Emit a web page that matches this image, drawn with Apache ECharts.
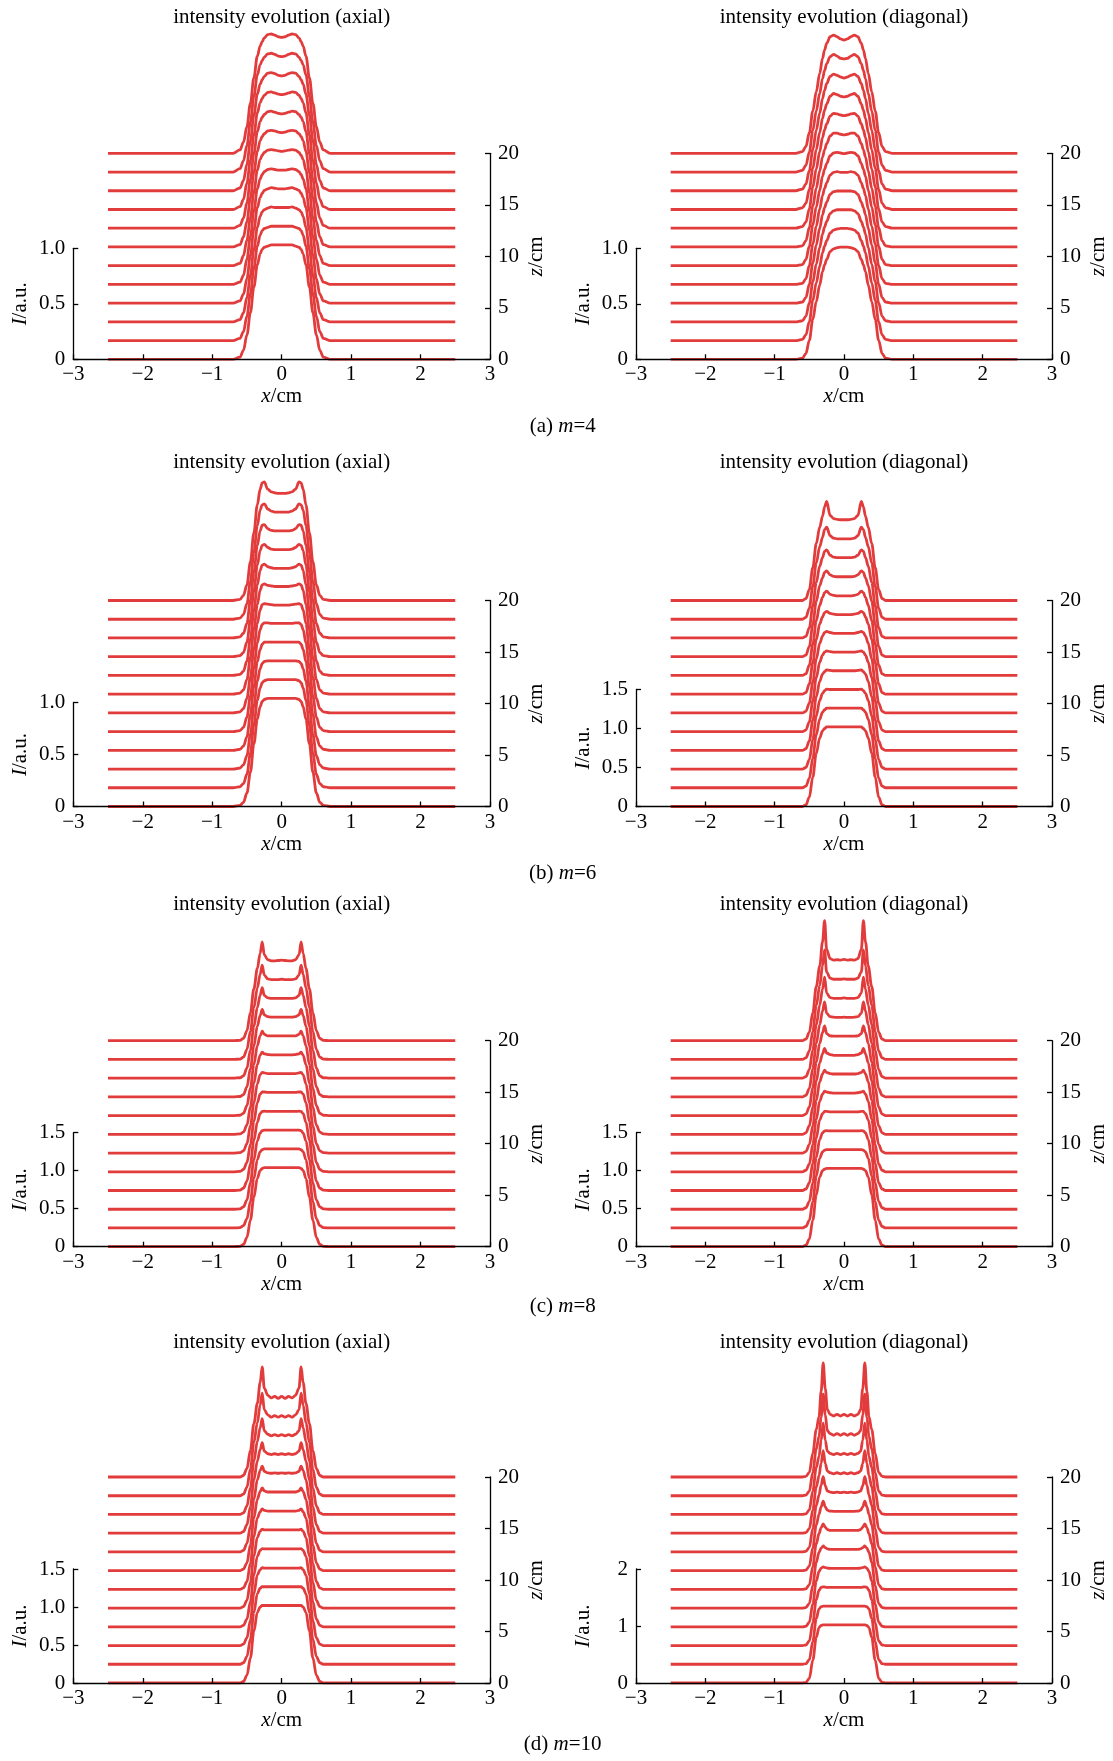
<!DOCTYPE html>
<html>
<head>
<meta charset="utf-8">
<script src="https://cdn.jsdelivr.net/npm/echarts@6/dist/echarts.min.js"></script>
<style>
html,body{margin:0;padding:0;background:#fff;}
#chart{width:1113px;height:1761px;}
</style>
</head>
<body>
<div id="chart"></div>
<script>
// propagation distances (cm) of the 12 transverse cuts, bottom to top
const zCuts = [0, 1.818, 3.636, 5.455, 7.273, 9.091, 10.909, 12.727, 14.545, 16.364, 18.182, 20];
const zTicks = [0, 5, 10, 15, 20];
const xTicks = [-3, -2, -1, 0, 1, 2, 3];

// half profiles I(x) for x >= 0 (beam is symmetric), one row per cut
const halfX_m4 = [0, 0.05, 0.1, 0.15, 0.2, 0.25, 0.28, 0.31, 0.35, 0.4, 0.45, 0.5, 0.55, 0.6, 0.7, 2.5];
const axial_m4 = [
  [1.03, 1.03, 1.03, 1.03, 1.02, 1.01, 0.99, 0.95, 0.85, 0.65, 0.42, 0.22, 0.08, 0.02, 0, 0],
  [1.03, 1.03, 1.03, 1.03, 1.02, 1.01, 0.99, 0.95, 0.85, 0.65, 0.42, 0.22, 0.08, 0.02, 0, 0],
  [1.03, 1.03, 1.03, 1.035, 1.025, 1.01, 0.99, 0.95, 0.85, 0.65, 0.42, 0.22, 0.08, 0.02, 0, 0],
  [1.03, 1.03, 1.035, 1.04, 1.03, 1.015, 0.99, 0.95, 0.86, 0.66, 0.43, 0.22, 0.08, 0.02, 0, 0],
  [1.03, 1.03, 1.035, 1.04, 1.035, 1.015, 0.99, 0.95, 0.86, 0.66, 0.43, 0.23, 0.08, 0.02, 0, 0],
  [1.03, 1.035, 1.04, 1.045, 1.04, 1.02, 0.995, 0.955, 0.86, 0.66, 0.43, 0.23, 0.09, 0.02, 0, 0],
  [1.03, 1.035, 1.045, 1.05, 1.045, 1.02, 0.995, 0.955, 0.86, 0.67, 0.44, 0.23, 0.09, 0.02, 0, 0],
  [1.03, 1.035, 1.045, 1.055, 1.05, 1.025, 1.0, 0.96, 0.87, 0.67, 0.44, 0.23, 0.09, 0.025, 0, 0],
  [1.035, 1.04, 1.05, 1.06, 1.055, 1.03, 1.0, 0.96, 0.87, 0.67, 0.44, 0.24, 0.09, 0.025, 0, 0],
  [1.035, 1.04, 1.055, 1.065, 1.06, 1.03, 1.0, 0.96, 0.87, 0.68, 0.45, 0.24, 0.09, 0.025, 0, 0],
  [1.04, 1.045, 1.06, 1.07, 1.065, 1.035, 1.005, 0.965, 0.875, 0.68, 0.45, 0.24, 0.1, 0.03, 0, 0],
  [1.045, 1.05, 1.065, 1.075, 1.07, 1.04, 1.005, 0.965, 0.875, 0.68, 0.45, 0.24, 0.1, 0.03, 0, 0]
];
const diagonal_m4 = [
  [1.01, 1.01, 1.005, 0.995, 0.97, 0.9, 0.85, 0.79, 0.67, 0.52, 0.36, 0.17, 0.05, 0.01, 0, 0],
  [1.01, 1.01, 1.005, 0.995, 0.97, 0.9, 0.85, 0.79, 0.67, 0.52, 0.36, 0.17, 0.05, 0.01, 0, 0],
  [1.01, 1.01, 1.01, 1.0, 0.975, 0.905, 0.855, 0.79, 0.67, 0.52, 0.36, 0.17, 0.05, 0.01, 0, 0],
  [1.01, 1.01, 1.01, 1.005, 0.98, 0.91, 0.86, 0.795, 0.675, 0.525, 0.36, 0.17, 0.05, 0.01, 0, 0],
  [1.01, 1.01, 1.015, 1.01, 0.985, 0.915, 0.865, 0.8, 0.68, 0.525, 0.36, 0.17, 0.05, 0.01, 0, 0],
  [1.01, 1.015, 1.02, 1.015, 0.99, 0.92, 0.87, 0.805, 0.68, 0.53, 0.365, 0.175, 0.055, 0.01, 0, 0],
  [1.01, 1.015, 1.025, 1.025, 1.0, 0.93, 0.875, 0.81, 0.685, 0.53, 0.365, 0.175, 0.055, 0.01, 0, 0],
  [1.015, 1.02, 1.03, 1.035, 1.01, 0.94, 0.885, 0.815, 0.69, 0.535, 0.37, 0.175, 0.055, 0.015, 0, 0],
  [1.015, 1.02, 1.035, 1.045, 1.02, 0.95, 0.895, 0.82, 0.695, 0.54, 0.37, 0.18, 0.055, 0.015, 0, 0],
  [1.015, 1.025, 1.04, 1.05, 1.03, 0.965, 0.905, 0.83, 0.7, 0.545, 0.37, 0.18, 0.06, 0.015, 0, 0],
  [1.02, 1.025, 1.045, 1.06, 1.04, 0.975, 0.915, 0.84, 0.71, 0.55, 0.375, 0.18, 0.06, 0.015, 0, 0],
  [1.02, 1.03, 1.05, 1.065, 1.05, 0.99, 0.93, 0.855, 0.72, 0.555, 0.38, 0.185, 0.06, 0.015, 0, 0]
];

const halfX_m6 = [0, 0.05, 0.1, 0.15, 0.2, 0.25, 0.28, 0.31, 0.35, 0.4, 0.45, 0.5, 0.55, 0.6, 0.7, 2.5];
const axial_m6 = [
  [1.04, 1.04, 1.04, 1.04, 1.04, 1.03, 1.01, 0.96, 0.84, 0.6, 0.33, 0.13, 0.04, 0.01, 0, 0],
  [1.04, 1.04, 1.04, 1.04, 1.04, 1.03, 1.01, 0.96, 0.84, 0.6, 0.33, 0.13, 0.04, 0.01, 0, 0],
  [1.04, 1.04, 1.04, 1.04, 1.04, 1.035, 1.015, 0.965, 0.845, 0.6, 0.33, 0.13, 0.04, 0.01, 0, 0],
  [1.04, 1.04, 1.04, 1.04, 1.04, 1.04, 1.02, 0.97, 0.85, 0.61, 0.34, 0.13, 0.04, 0.01, 0, 0],
  [1.04, 1.04, 1.04, 1.04, 1.045, 1.045, 1.03, 0.98, 0.85, 0.61, 0.34, 0.14, 0.04, 0.01, 0, 0],
  [1.035, 1.035, 1.035, 1.04, 1.045, 1.05, 1.04, 0.99, 0.86, 0.61, 0.34, 0.14, 0.04, 0.01, 0, 0],
  [1.035, 1.035, 1.035, 1.04, 1.045, 1.06, 1.05, 1.0, 0.86, 0.62, 0.35, 0.14, 0.04, 0.01, 0, 0],
  [1.03, 1.03, 1.03, 1.035, 1.045, 1.07, 1.06, 1.01, 0.87, 0.62, 0.35, 0.14, 0.04, 0.01, 0, 0],
  [1.03, 1.03, 1.03, 1.035, 1.05, 1.08, 1.07, 1.02, 0.88, 0.63, 0.35, 0.14, 0.04, 0.01, 0, 0],
  [1.03, 1.03, 1.03, 1.035, 1.05, 1.09, 1.085, 1.03, 0.89, 0.63, 0.36, 0.14, 0.045, 0.01, 0, 0],
  [1.03, 1.03, 1.03, 1.04, 1.06, 1.11, 1.1, 1.05, 0.9, 0.64, 0.36, 0.15, 0.045, 0.01, 0, 0],
  [1.03, 1.03, 1.035, 1.045, 1.07, 1.14, 1.13, 1.07, 0.92, 0.65, 0.37, 0.15, 0.05, 0.01, 0, 0]
];
const diagonal_m6 = [
  [1.02, 1.02, 1.02, 1.02, 1.02, 1.02, 1.0, 0.97, 0.88, 0.68, 0.38, 0.12, 0.02, 0, 0, 0],
  [1.02, 1.02, 1.02, 1.02, 1.02, 1.02, 1.0, 0.97, 0.88, 0.68, 0.38, 0.12, 0.02, 0, 0, 0],
  [1.02, 1.02, 1.02, 1.02, 1.02, 1.025, 1.005, 0.97, 0.88, 0.68, 0.38, 0.12, 0.02, 0, 0, 0],
  [1.02, 1.02, 1.02, 1.02, 1.025, 1.03, 1.01, 0.975, 0.885, 0.685, 0.385, 0.12, 0.02, 0, 0, 0],
  [1.02, 1.02, 1.02, 1.02, 1.025, 1.035, 1.02, 0.98, 0.89, 0.69, 0.39, 0.125, 0.02, 0, 0, 0],
  [1.02, 1.02, 1.02, 1.02, 1.03, 1.045, 1.03, 0.985, 0.89, 0.69, 0.39, 0.125, 0.02, 0, 0, 0],
  [1.02, 1.02, 1.02, 1.025, 1.035, 1.06, 1.045, 0.99, 0.9, 0.7, 0.4, 0.13, 0.02, 0, 0, 0],
  [1.02, 1.02, 1.02, 1.025, 1.04, 1.08, 1.06, 1.0, 0.9, 0.7, 0.4, 0.13, 0.02, 0, 0, 0],
  [1.025, 1.025, 1.025, 1.03, 1.05, 1.1, 1.08, 1.01, 0.91, 0.71, 0.41, 0.13, 0.02, 0, 0, 0],
  [1.03, 1.03, 1.03, 1.035, 1.06, 1.13, 1.11, 1.03, 0.92, 0.71, 0.41, 0.13, 0.02, 0, 0, 0],
  [1.03, 1.03, 1.03, 1.04, 1.07, 1.18, 1.15, 1.05, 0.93, 0.72, 0.42, 0.14, 0.025, 0, 0, 0],
  [1.035, 1.035, 1.04, 1.05, 1.09, 1.27, 1.2, 1.08, 0.94, 0.73, 0.42, 0.14, 0.025, 0, 0, 0]
];

const halfX_m8 = [0, 0.05, 0.1, 0.15, 0.2, 0.25, 0.28, 0.31, 0.35, 0.4, 0.45, 0.5, 0.55, 0.6, 0.7, 2.5];
const axial_m8 = [
  [1.04, 1.04, 1.04, 1.04, 1.04, 1.04, 1.03, 1.0, 0.9, 0.65, 0.35, 0.12, 0.03, 0.005, 0, 0],
  [1.04, 1.04, 1.04, 1.04, 1.04, 1.04, 1.03, 1.0, 0.9, 0.65, 0.35, 0.12, 0.03, 0.005, 0, 0],
  [1.04, 1.04, 1.04, 1.04, 1.04, 1.04, 1.035, 1.0, 0.9, 0.65, 0.35, 0.12, 0.03, 0.005, 0, 0],
  [1.04, 1.04, 1.04, 1.04, 1.04, 1.045, 1.04, 1.01, 0.9, 0.66, 0.35, 0.12, 0.03, 0.005, 0, 0],
  [1.045, 1.045, 1.045, 1.045, 1.045, 1.05, 1.05, 1.02, 0.91, 0.66, 0.36, 0.12, 0.03, 0.005, 0, 0],
  [1.045, 1.045, 1.045, 1.045, 1.045, 1.055, 1.06, 1.03, 0.91, 0.66, 0.36, 0.12, 0.03, 0.005, 0, 0],
  [1.045, 1.045, 1.045, 1.045, 1.05, 1.06, 1.08, 1.04, 0.92, 0.67, 0.36, 0.12, 0.03, 0.005, 0, 0],
  [1.05, 1.05, 1.05, 1.05, 1.05, 1.07, 1.11, 1.05, 0.92, 0.67, 0.36, 0.13, 0.03, 0.005, 0, 0],
  [1.05, 1.05, 1.05, 1.05, 1.055, 1.08, 1.15, 1.07, 0.93, 0.67, 0.37, 0.13, 0.03, 0.005, 0, 0],
  [1.05, 1.05, 1.05, 1.05, 1.055, 1.09, 1.19, 1.09, 0.93, 0.68, 0.37, 0.13, 0.03, 0.005, 0, 0],
  [1.055, 1.05, 1.05, 1.05, 1.06, 1.11, 1.24, 1.12, 0.94, 0.68, 0.37, 0.13, 0.03, 0.005, 0, 0],
  [1.06, 1.055, 1.05, 1.05, 1.065, 1.13, 1.3, 1.15, 0.95, 0.68, 0.37, 0.13, 0.03, 0.005, 0, 0]
];
const diagonal_m8 = [
  [1.03, 1.03, 1.03, 1.03, 1.03, 1.03, 1.02, 1.0, 0.92, 0.68, 0.35, 0.1, 0.02, 0, 0, 0],
  [1.03, 1.03, 1.03, 1.03, 1.03, 1.03, 1.025, 1.0, 0.92, 0.68, 0.35, 0.1, 0.02, 0, 0, 0],
  [1.03, 1.03, 1.03, 1.03, 1.03, 1.035, 1.03, 1.005, 0.92, 0.68, 0.35, 0.1, 0.02, 0, 0, 0],
  [1.035, 1.035, 1.035, 1.035, 1.035, 1.04, 1.04, 1.01, 0.93, 0.69, 0.36, 0.1, 0.02, 0, 0, 0],
  [1.035, 1.035, 1.035, 1.035, 1.04, 1.05, 1.06, 1.02, 0.93, 0.69, 0.36, 0.1, 0.02, 0, 0, 0],
  [1.04, 1.04, 1.04, 1.04, 1.045, 1.06, 1.09, 1.04, 0.94, 0.69, 0.36, 0.11, 0.02, 0, 0, 0],
  [1.04, 1.04, 1.04, 1.04, 1.05, 1.07, 1.13, 1.06, 0.94, 0.7, 0.36, 0.11, 0.02, 0, 0, 0],
  [1.045, 1.045, 1.045, 1.045, 1.05, 1.08, 1.18, 1.09, 0.95, 0.7, 0.37, 0.11, 0.02, 0, 0, 0],
  [1.05, 1.045, 1.045, 1.05, 1.055, 1.1, 1.25, 1.13, 0.95, 0.7, 0.37, 0.11, 0.02, 0, 0, 0],
  [1.055, 1.05, 1.05, 1.05, 1.06, 1.12, 1.33, 1.17, 0.96, 0.7, 0.37, 0.11, 0.02, 0, 0, 0],
  [1.06, 1.055, 1.055, 1.055, 1.07, 1.15, 1.44, 1.23, 0.97, 0.71, 0.37, 0.11, 0.02, 0, 0, 0],
  [1.07, 1.06, 1.065, 1.06, 1.08, 1.2, 1.58, 1.3, 0.98, 0.71, 0.37, 0.11, 0.02, 0, 0, 0]
];

const halfX_m10a = [0, 0.05, 0.1, 0.15, 0.2, 0.25, 0.28, 0.31, 0.35, 0.4, 0.45, 0.5, 0.55, 0.6, 0.7, 2.5];
const axial_m10 = [
  [1.02, 1.02, 1.02, 1.02, 1.02, 1.02, 1.02, 1.0, 0.93, 0.68, 0.33, 0.1, 0.02, 0, 0, 0],
  [1.02, 1.02, 1.02, 1.02, 1.02, 1.02, 1.02, 1.0, 0.93, 0.68, 0.33, 0.1, 0.02, 0, 0, 0],
  [1.02, 1.02, 1.02, 1.02, 1.02, 1.02, 1.025, 1.0, 0.93, 0.68, 0.33, 0.1, 0.02, 0, 0, 0],
  [1.025, 1.025, 1.025, 1.025, 1.025, 1.025, 1.03, 1.005, 0.93, 0.68, 0.33, 0.1, 0.02, 0, 0, 0],
  [1.03, 1.03, 1.03, 1.03, 1.03, 1.03, 1.04, 1.01, 0.93, 0.68, 0.34, 0.1, 0.02, 0, 0, 0],
  [1.03, 1.03, 1.03, 1.03, 1.03, 1.04, 1.06, 1.02, 0.94, 0.69, 0.34, 0.1, 0.02, 0, 0, 0],
  [1.035, 1.035, 1.035, 1.035, 1.035, 1.05, 1.09, 1.04, 0.94, 0.69, 0.34, 0.1, 0.02, 0, 0, 0],
  [1.04, 1.035, 1.04, 1.035, 1.04, 1.06, 1.13, 1.07, 0.95, 0.69, 0.34, 0.11, 0.02, 0, 0, 0],
  [1.045, 1.035, 1.045, 1.035, 1.045, 1.08, 1.19, 1.1, 0.95, 0.7, 0.35, 0.11, 0.02, 0, 0, 0],
  [1.05, 1.035, 1.05, 1.035, 1.055, 1.1, 1.26, 1.14, 0.96, 0.7, 0.35, 0.11, 0.02, 0, 0, 0],
  [1.055, 1.035, 1.055, 1.035, 1.065, 1.13, 1.35, 1.19, 0.96, 0.7, 0.35, 0.11, 0.02, 0, 0, 0],
  [1.06, 1.035, 1.06, 1.04, 1.075, 1.17, 1.45, 1.24, 0.97, 0.7, 0.35, 0.11, 0.02, 0, 0, 0]
];
const halfX_m10d = [0, 0.05, 0.1, 0.15, 0.2, 0.24, 0.27, 0.3, 0.33, 0.36, 0.4, 0.45, 0.5, 0.55, 0.6, 2.5];
const diagonal_m10 = [
  [1.02, 1.02, 1.02, 1.02, 1.02, 1.02, 1.02, 1.02, 1.01, 0.97, 0.8, 0.4, 0.08, 0.01, 0, 0],
  [1.02, 1.02, 1.02, 1.02, 1.02, 1.02, 1.02, 1.02, 1.01, 0.97, 0.8, 0.4, 0.08, 0.01, 0, 0],
  [1.02, 1.02, 1.02, 1.02, 1.02, 1.02, 1.025, 1.03, 1.02, 0.97, 0.8, 0.4, 0.08, 0.01, 0, 0],
  [1.025, 1.025, 1.025, 1.025, 1.025, 1.03, 1.04, 1.05, 1.03, 0.97, 0.8, 0.4, 0.08, 0.01, 0, 0],
  [1.03, 1.03, 1.03, 1.03, 1.03, 1.04, 1.06, 1.09, 1.05, 0.98, 0.8, 0.4, 0.08, 0.01, 0, 0],
  [1.035, 1.035, 1.035, 1.035, 1.035, 1.05, 1.09, 1.15, 1.08, 0.98, 0.8, 0.4, 0.08, 0.01, 0, 0],
  [1.04, 1.04, 1.04, 1.04, 1.045, 1.06, 1.12, 1.22, 1.12, 0.99, 0.8, 0.4, 0.08, 0.01, 0, 0],
  [1.05, 1.04, 1.05, 1.04, 1.05, 1.07, 1.16, 1.32, 1.17, 1.0, 0.81, 0.41, 0.08, 0.01, 0, 0],
  [1.06, 1.04, 1.06, 1.04, 1.06, 1.09, 1.22, 1.45, 1.23, 1.01, 0.81, 0.41, 0.08, 0.01, 0, 0],
  [1.07, 1.05, 1.07, 1.05, 1.07, 1.11, 1.3, 1.6, 1.3, 1.02, 0.82, 0.41, 0.08, 0.01, 0, 0],
  [1.09, 1.06, 1.09, 1.06, 1.09, 1.14, 1.42, 1.78, 1.38, 1.04, 0.82, 0.41, 0.08, 0.01, 0, 0],
  [1.1, 1.07, 1.1, 1.07, 1.1, 1.18, 1.55, 2.0, 1.5, 1.06, 0.83, 0.42, 0.08, 0.01, 0, 0]
];

// figure layout (px)
const FONT = 'Liberation Serif';
const FS = 21;
const RED = '#e23b3b';
const COLS = [[73.3, 490], [636, 1052]];
const ROW_BOTTOM = [359.3, 806.5, 1246.7, 1683];
const ROW_TITLE_Y = [17, 462.7, 904, 1342];
const ROW_CAPTION_Y = [426.8, 873.8, 1306.2, 1744];
const CAPTIONS = ['(a) {i|m}=4', '(b) {i|m}=6', '(c) {i|m}=8', '(d) {i|m}=10'];
const Z_AXIS_PX = 206;   // length of the 0..20 cm z axis
const PLOT_H = 345;      // height of the waterfall area

const panels = [
  { title: 'intensity evolution (axial)',    row: 0, col: 0, xs: halfX_m4,   prof: axial_m4,     iTop: 1.0, iStep: 0.5, iAxisPx: 111 },
  { title: 'intensity evolution (diagonal)', row: 0, col: 1, xs: halfX_m4,   prof: diagonal_m4,  iTop: 1.0, iStep: 0.5, iAxisPx: 111 },
  { title: 'intensity evolution (axial)',    row: 1, col: 0, xs: halfX_m6,   prof: axial_m6,     iTop: 1.0, iStep: 0.5, iAxisPx: 104 },
  { title: 'intensity evolution (diagonal)', row: 1, col: 1, xs: halfX_m6,   prof: diagonal_m6,  iTop: 1.5, iStep: 0.5, iAxisPx: 117 },
  { title: 'intensity evolution (axial)',    row: 2, col: 0, xs: halfX_m8,   prof: axial_m8,     iTop: 1.5, iStep: 0.5, iAxisPx: 114 },
  { title: 'intensity evolution (diagonal)', row: 2, col: 1, xs: halfX_m8,   prof: diagonal_m8,  iTop: 1.5, iStep: 0.5, iAxisPx: 114 },
  { title: 'intensity evolution (axial)',    row: 3, col: 0, xs: halfX_m10a, prof: axial_m10,    iTop: 1.5, iStep: 0.5, iAxisPx: 114 },
  { title: 'intensity evolution (diagonal)', row: 3, col: 1, xs: halfX_m10d, prof: diagonal_m10, iTop: 2,   iStep: 1,   iAxisPx: 114 }
];

const txt = { fontFamily: FONT, fontSize: FS, color: '#000' };
const richItalic = { i: { fontFamily: FONT, fontSize: FS, fontStyle: 'italic', color: '#000' } };
const axisLine = { show: true, onZero: false, lineStyle: { color: '#000', width: 1.3 } };
const axisTick = { show: true, inside: true, length: 5, lineStyle: { color: '#000', width: 1.3 } };
const minus = v => (v < 0 ? '\u2212' + Math.abs(v) : String(v));

const grid = [], xAxis = [], yAxis = [], series = [], graphic = [];

panels.forEach((p, pi) => {
  const [x0, x1] = COLS[p.col];
  const bottom = ROW_BOTTOM[p.row];
  const width = x1 - x0;
  const pxPerI = p.iAxisPx / p.iTop;
  const iPerZ = (Z_AXIS_PX / 20) / pxPerI;
  const g = pi * 3;

  // waterfall area with the x axis (axis drawn above the traces)
  grid.push({ left: x0, top: bottom - PLOT_H, width: width, height: PLOT_H });
  xAxis.push({
    gridIndex: g, type: 'value', min: -3, max: 3, interval: 1, z: 10,
    axisLine, axisTick, splitLine: { show: false },
    axisLabel: Object.assign({ margin: 5, formatter: minus }, txt),
    name: '{i|x}/cm', nameLocation: 'middle', nameGap: 27,
    nameTextStyle: Object.assign({ rich: richItalic }, txt)
  });
  yAxis.push({ gridIndex: g, type: 'value', min: 0, max: PLOT_H / pxPerI, show: false });

  // intensity axis
  grid.push({ left: x0, top: bottom - p.iAxisPx, width: width, height: p.iAxisPx });
  xAxis.push({ gridIndex: g + 1, type: 'value', min: -3, max: 3, show: false });
  yAxis.push({
    gridIndex: g + 1, type: 'value', position: 'left', min: 0, max: p.iTop, interval: p.iStep, z: 10,
    axisLine, axisTick, splitLine: { show: false },
    axisLabel: Object.assign({
      margin: 8,
      formatter: v => (v === 0 ? '0' : (p.iStep < 1 ? v.toFixed(1) : String(v)))
    }, txt),
    name: '{i|I}/a.u.', nameLocation: 'middle', nameRotate: 90, nameGap: 42,
    nameTextStyle: Object.assign({ rich: richItalic }, txt)
  });

  // propagation axis
  grid.push({ left: x0, top: bottom - Z_AXIS_PX, width: width, height: Z_AXIS_PX });
  xAxis.push({ gridIndex: g + 2, type: 'value', min: -3, max: 3, show: false });
  yAxis.push({
    gridIndex: g + 2, type: 'value', position: 'right', min: 0, max: 20, interval: 5, z: 10,
    axisLine, axisTick, splitLine: { show: false },
    axisLabel: Object.assign({ margin: 8 }, txt),
    name: '{i|z}/cm', nameLocation: 'middle', nameRotate: 90, nameGap: 36,
    nameTextStyle: Object.assign({ rich: richItalic }, txt)
  });

  // one trace per cut, lifted by its z position
  p.prof.forEach((vals, k) => {
    const off = zCuts[k] * iPerZ;
    const pts = [];
    for (let i = p.xs.length - 1; i > 0; i--) pts.push([-p.xs[i], vals[i] + off]);
    for (let i = 0; i < p.xs.length; i++) pts.push([p.xs[i], vals[i] + off]);
    series.push({
      type: 'line', xAxisIndex: g, yAxisIndex: g, data: pts,
      symbol: 'none', smooth: 0.35, smoothMonotone: 'x',
      lineStyle: { color: RED, width: 2.8 }, silent: true, z: 3
    });
  });

  graphic.push({
    type: 'text', x: (x0 + x1) / 2, y: ROW_TITLE_Y[p.row],
    style: { text: p.title, fontFamily: FONT, fontSize: FS, fill: '#000',
             align: 'center', verticalAlign: 'middle', textAlign: 'center', textVerticalAlign: 'middle' }
  });
});

CAPTIONS.forEach((c, r) => {
  graphic.push({
    type: 'text', x: 562.7, y: ROW_CAPTION_Y[r],
    style: { text: c, fontFamily: FONT, fontSize: FS, fill: '#000',
             align: 'center', verticalAlign: 'middle', textAlign: 'center', textVerticalAlign: 'middle',
             rich: { i: { fontFamily: FONT, fontSize: FS, fontStyle: 'italic', fill: '#000' } } }
  });
});

const chart = echarts.init(document.getElementById('chart'), null, { renderer: 'canvas' });
chart.setOption({
  animation: false,
  backgroundColor: '#fff',
  grid, xAxis, yAxis, series, graphic
});
</script>
</body>
</html>
